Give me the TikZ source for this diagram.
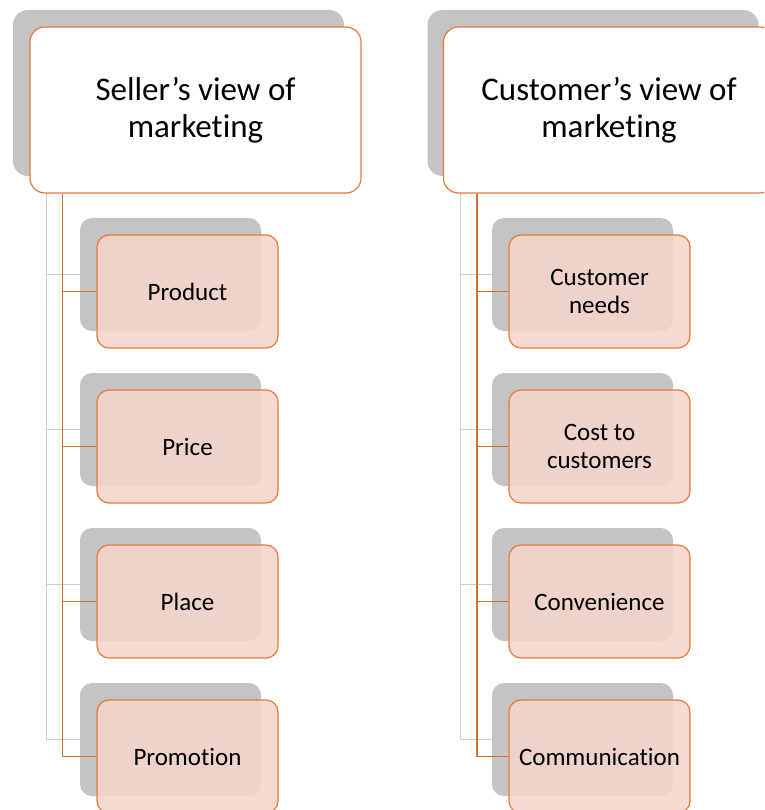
\documentclass[tikz,border=0pt]{standalone}
\usepackage{fontspec}
\setmainfont{Carlito}[Ligatures={NoCommon}]
\usetikzlibrary{positioning}
\definecolor{accent}{HTML}{E27C3A}
\definecolor{wire}{HTML}{D0702F}
\definecolor{shade}{HTML}{C4C4C4}
\definecolor{blush}{HTML}{F5D4CA}

\begin{document}
\begin{tikzpicture}[x=1pt,y=-1pt,
  head/.style={rectangle,rounded corners=15pt,draw=accent,line width=1.2pt,fill=white,
    minimum width=331pt,minimum height=166pt,align=center,font=\fontsize{33}{37}\selectfont},
  headsh/.style={rectangle,rounded corners=15pt,fill=shade,minimum width=331pt,minimum height=166pt},
  item/.style={rectangle,rounded corners=12pt,draw=accent,line width=1.2pt,fill=blush,fill opacity=0.88,
    text opacity=1,minimum width=181pt,minimum height=113pt,align=center,font=\fontsize{25}{28}\selectfont},
  itemsh/.style={rectangle,rounded corners=12pt,fill=shade,minimum width=181pt,minimum height=113pt},
  greyline/.style={draw=shade!85!white,line width=1.2pt},
  orangeline/.style={draw=wire,line width=1.5pt}]
\path[use as bounding box,clip] (0,0) rectangle (764,810);

% shadows
\node[headsh] (sellsh) at (178.5,93) {};
\node[headsh] (custsh) at (593,93) {};
\node[itemsh] (prodsh) at (170.5,274.5) {};
\node[itemsh] (pricesh) at (170.5,429.5) {};
\node[itemsh] (placesh) at (170.5,584.5) {};
\node[itemsh] (promsh) at (170.5,739.5) {};
\node[itemsh] (needsh) at (582.5,274.5) {};
\node[itemsh] (costsh) at (582.5,429.5) {};
\node[itemsh] (convsh) at (582.5,584.5) {};
\node[itemsh] (commsh) at (582.5,739.5) {};

% grey connectors
\draw[greyline] ([xshift=34pt]sellsh.south west) |- (prodsh.west);
\draw[greyline] ([xshift=34pt]sellsh.south west) |- (pricesh.west);
\draw[greyline] ([xshift=34pt]sellsh.south west) |- (placesh.west);
\draw[greyline] ([xshift=34pt]sellsh.south west) |- (promsh.west);
\draw[greyline] ([xshift=33pt]custsh.south west) |- (needsh.west);
\draw[greyline] ([xshift=33pt]custsh.south west) |- (costsh.west);
\draw[greyline] ([xshift=33pt]custsh.south west) |- (convsh.west);
\draw[greyline] ([xshift=33pt]custsh.south west) |- (commsh.west);

% boxes
\node[head] (sell) at (195.5,110) {Seller’s view of\\marketing};
\node[head] (cust) at (609,110) {Customer’s view of\\marketing};
\node[item] (prod) at (187.5,291.5) {Product};
\node[item] (price) at (187.5,446.5) {Price};
\node[item] (place) at (187.5,601.5) {Place};
\node[item] (prom) at (187.5,756.5) {Promotion};
\node[item] (need) at (599.5,291.5) {Customer\\needs};
\node[item] (cost) at (599.5,446.5) {Cost to\\customers};
\node[item] (conv) at (599.5,601.5) {Convenience};
\node[item] (comm) at (599.5,756.5) {Communication};

% orange connectors
\draw[orangeline] ([xshift=33pt]sell.south west) |- (prod.west);
\draw[orangeline] ([xshift=33pt]sell.south west) |- (price.west);
\draw[orangeline] ([xshift=33pt]sell.south west) |- (place.west);
\draw[orangeline] ([xshift=33pt]sell.south west) |- (prom.west);
\draw[orangeline] ([xshift=34pt]cust.south west) |- (need.west);
\draw[orangeline] ([xshift=34pt]cust.south west) |- (cost.west);
\draw[orangeline] ([xshift=34pt]cust.south west) |- (conv.west);
\draw[orangeline] ([xshift=34pt]cust.south west) |- (comm.west);
\end{tikzpicture}
\end{document}
